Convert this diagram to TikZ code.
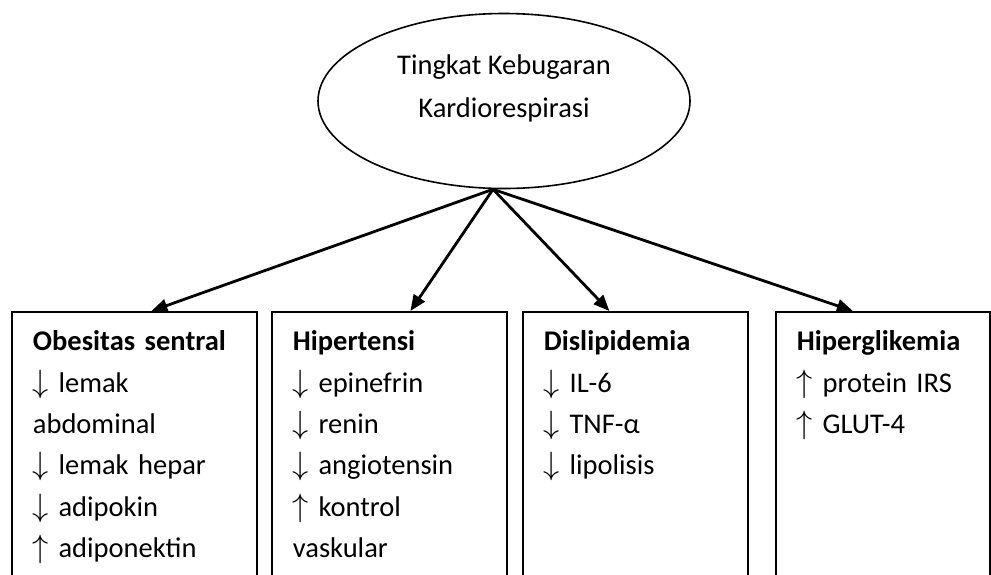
\documentclass[tikz,border=0pt]{standalone}
\usepackage{graphicx}
\usepackage{fontspec}
\setmainfont{Carlito}
\usetikzlibrary{arrows.meta,shapes.geometric}

\tikzset{
  kotak/.style={draw, line width=1.8pt, anchor=north west, align=left,
    inner xsep=21pt, inner ysep=19pt, text depth=300pt,
    font=\fontsize{28.5}{41.3}\selectfont},
  panah/.style={line width=2.8pt, -{Triangle[length=16pt,width=13pt]}},
}
\newcommand{\turun}{\scalebox{1.3}{$\downarrow$}}
\newcommand{\naik}{\scalebox{1.3}{$\uparrow$}}

\begin{document}
\begin{tikzpicture}[x=1pt,y=-1pt]
  \useasboundingbox (0,0) rectangle (991,574);
  \clip (0,0) rectangle (991,574);

  %%%%% ellipse %%%%%
  \node[draw, ellipse, line width=1.6pt, minimum width=372pt, minimum height=175pt] (kebugaran) at (504,101) {};
  \node[font=\fontsize{28.5}{43}\selectfont, align=center] (judul) at (504,88) {Tingkat Kebugaran\\Kardiorespirasi};

  %%%%% boxes %%%%%
  \node[kotak, text width=203pt] (obesitas) at (11,311)
    {\textbf{Obesitas sentral}\\\turun{} lemak\\abdominal\\\turun{} lemak hepar\\\turun{} adipokin\\\naik{} adiponektin};
  \node[kotak, text width=193pt] (hipertensi) at (271,311)
    {\textbf{Hipertensi}\\\turun{} epinefrin\\\turun{} renin\\\turun{} angiotensin\\\naik{} kontrol\\vaskular};
  \node[kotak, text width=183pt] (dislipidemia) at (522,311)
    {\textbf{Dislipidemia}\\\turun{} IL-6\\\turun{} TNF-α\\\turun{} lipolisis};
  \node[kotak, text width=172pt] (hiperglikemia) at (775,311)
    {\textbf{Hiperglikemia}\\\naik{} protein IRS\\\naik{} GLUT-4};

  %%%%% arrows %%%%%
  \draw[panah] ([xshift=-11pt]kebugaran.south) -- ([xshift=17pt]obesitas.north);
  \draw[panah] ([xshift=-11pt]kebugaran.south) -- ([xshift=21pt]hipertensi.north);
  \draw[panah] ([xshift=-11pt]kebugaran.south) -- ([xshift=-26pt]dislipidemia.north);
  \draw[panah] ([xshift=-11pt]kebugaran.south) -- ([xshift=-30pt]hiperglikemia.north);
\end{tikzpicture}
\end{document}
